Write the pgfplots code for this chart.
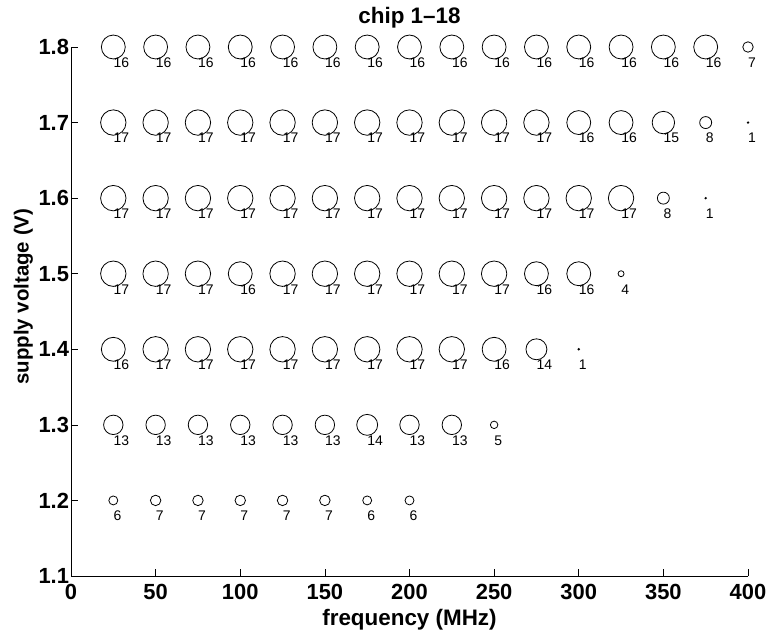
\documentclass[border=0pt]{standalone}
\usepackage{fontspec}
\setmainfont{Liberation Sans}
\usepackage{pgfplots}
\usepackage{pgfplotstable}
\pgfplotsset{compat=1.18}
\pgfplotstableread{
x y n
25 1.8 16
50 1.8 16
75 1.8 16
100 1.8 16
125 1.8 16
150 1.8 16
175 1.8 16
200 1.8 16
225 1.8 16
250 1.8 16
275 1.8 16
300 1.8 16
325 1.8 16
350 1.8 16
375 1.8 16
400 1.8 7
25 1.7 17
50 1.7 17
75 1.7 17
100 1.7 17
125 1.7 17
150 1.7 17
175 1.7 17
200 1.7 17
225 1.7 17
250 1.7 17
275 1.7 17
300 1.7 16
325 1.7 16
350 1.7 15
375 1.7 8
400 1.7 1
25 1.6 17
50 1.6 17
75 1.6 17
100 1.6 17
125 1.6 17
150 1.6 17
175 1.6 17
200 1.6 17
225 1.6 17
250 1.6 17
275 1.6 17
300 1.6 17
325 1.6 17
350 1.6 8
375 1.6 1
25 1.5 17
50 1.5 17
75 1.5 17
100 1.5 16
125 1.5 17
150 1.5 17
175 1.5 17
200 1.5 17
225 1.5 17
250 1.5 17
275 1.5 16
300 1.5 16
325 1.5 4
25 1.4 16
50 1.4 17
75 1.4 17
100 1.4 17
125 1.4 17
150 1.4 17
175 1.4 17
200 1.4 17
225 1.4 17
250 1.4 16
275 1.4 14
300 1.4 1
25 1.3 13
50 1.3 13
75 1.3 13
100 1.3 13
125 1.3 13
150 1.3 13
175 1.3 14
200 1.3 13
225 1.3 13
250 1.3 5
25 1.2 6
50 1.2 7
75 1.2 7
100 1.2 7
125 1.2 7
150 1.2 7
175 1.2 6
200 1.2 6
}\chipdata
\begin{document}
\begin{tikzpicture}
\begin{axis}[
  at={(71bp,54bp)}, anchor=south west,
  scale only axis, width=677bp, height=529bp,
  xmin=0, xmax=400, ymin=1.1, ymax=1.8,
  xtick={0,50,...,400},
  ytick={1.1,1.2,1.3,1.4,1.5,1.6,1.7,1.8},
  axis x line*=bottom, axis y line*=left,
  axis line style={line width=0.8bp, black},
  tick align=inside, major tick length=7bp,
  tick style={line width=0.6bp, black},
  clip=false,
  /pgf/number format/assume math mode=true,
  ticklabel style={font=\fontsize{22}{26}\selectfont\bfseries},
  yticklabel style={/pgf/number format/fixed, /pgf/number format/precision=1, /pgf/number format/fixed zerofill, xshift=1.5bp},
  xticklabel style={yshift=-5bp},
  title={chip 1\textendash 18},
  title style={at={(axis description cs:0.5,1)}, anchor=base, yshift=17.5bp, font=\fontsize{22.5}{26}\selectfont\bfseries},
  xlabel={frequency (MHz)},
  xlabel style={at={(axis description cs:0.5,0)}, anchor=base, yshift=-49bp, font=\fontsize{22.5}{26}\selectfont\bfseries},
  ylabel={supply voltage (V)},
  ylabel style={at={(axis description cs:-0.0625,0.528)}, anchor=base, font=\fontsize{20.5}{24}\selectfont\bfseries},
]
% circles, radius proportional to the count
\addplot[scatter, only marks, mark=o, mark options={line width=0.8bp},
  point meta=\thisrow{n},
  visualization depends on={0.75*\thisrow{n} \as \msize},
  scatter/@pre marker code/.code={\scope[mark size=\msize, draw=black, fill=none]},
  scatter/@post marker code/.code={\endscope},
] table[x=x, y=y] {\chipdata};
% count labels
\addplot[only marks, mark=none,
  point meta=\thisrow{n},
  nodes near coords,
  nodes near coords style={anchor=west, yshift=-15.5bp, inner sep=0pt, text=black, font=\fontsize{14}{17}\selectfont},
] table[x=x, y=y] {\chipdata};
\end{axis}
\pgfresetboundingbox
\path[use as bounding box] (0,0) rectangle (771bp,630bp);
\end{tikzpicture}
\end{document}
